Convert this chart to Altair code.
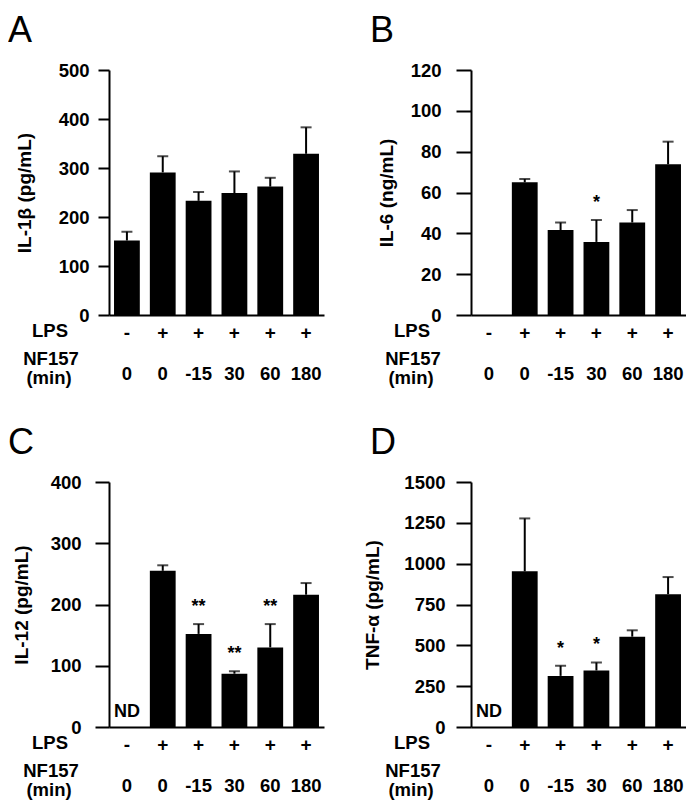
import altair as alt
import pandas as pd

# ---- data ----
conditions = ["c1", "c2", "c3", "c4", "c5", "c6"]
lps_signs = ["-", "+", "+", "+", "+", "+"]
nf157_min = ["0", "0", "-15", "30", "60", "180"]

il1b_mean = [152, 291, 233, 249, 262, 329]
il1b_err = [18, 33, 18, 44, 18, 54]
il1b_star = ["", "", "", "", "", ""]
il1b_nd = ["", "", "", "", "", ""]

il6_mean = [0, 65.0, 41.6, 35.8, 45.3, 73.8]
il6_err = [0, 1.6, 3.7, 10.7, 6.1, 11.1]
il6_star = ["", "", "", "*", "", ""]
il6_nd = ["", "", "", "", "", ""]

il12_mean = [0, 255, 152, 87, 130, 216]
il12_err = [0, 9, 16, 4, 38, 19]
il12_star = ["", "", "**", "**", "**", ""]
il12_nd = ["ND", "", "", "", "", ""]

tnf_mean = [0, 953, 313, 346, 553, 813]
tnf_err = [0, 324, 62, 49, 39, 105]
tnf_star = ["", "", "*", "*", "", ""]
tnf_nd = ["ND", "", "", "", "", ""]

FONT = "Liberation Sans"
W, H = 215, 245


def panel(letter, ytitle, means, errs, stars, nd, ymax, ystep, tick_size, label_pad, title_x):
    df = pd.DataFrame({
        "cond": conditions,
        "mean": means,
        "err": errs,
        "top": [m + e for m, e in zip(means, errs)],
        "star": stars,
        "nd": nd,
        "lps": lps_signs,
        "nf": nf157_min,
    })
    x = alt.X("cond:N", sort=conditions,
              scale=alt.Scale(paddingInner=0.28, paddingOuter=0.14),
              axis=alt.Axis(title=None, labels=False, ticks=False,
                            domainColor="black", domainWidth=2))
    yscale = alt.Scale(domain=[0, ymax], nice=False)
    yaxis = alt.Axis(values=list(range(0, ymax + 1, ystep)), format="d", grid=False,
                     labelFont=FONT, labelFontSize=18.5, labelFontWeight="bold",
                     labelColor="black", labelPadding=label_pad,
                     tickSize=tick_size, tickWidth=2, tickColor="black",
                     domainColor="black", domainWidth=2,
                     title=ytitle, titleFont=FONT, titleFontSize=19,
                     titleFontWeight="bold", titleColor="black",
                     titleAngle=270, titleX=title_x, titleY=H / 2,
                     titleAlign="center", titleBaseline="middle")
    base = alt.Chart(df)
    bars = base.mark_bar(color="black").encode(
        x=x, y=alt.Y("mean:Q", scale=yscale, axis=yaxis))
    rules = base.transform_filter("datum.err > 0").mark_rule(
        color="black", strokeWidth=2).encode(x=x, y="mean:Q", y2="top:Q")
    caps = base.transform_filter("datum.err > 0").mark_tick(
        color="black", thickness=2, size=11).encode(x=x, y="top:Q")
    star_t = base.transform_filter("datum.star != ''").mark_text(
        font=FONT, fontSize=18, fontWeight="bold", baseline="alphabetic",
        dy=-12, color="black").encode(x=x, y="top:Q", text="star:N")
    nd_t = base.transform_filter("datum.nd != ''").mark_text(
        font=FONT, fontSize=18, fontWeight="bold", baseline="alphabetic",
        dy=-10, color="black").encode(x=x, y=alt.value(H), text="nd:N")
    signs = base.mark_text(font=FONT, fontSize=19, fontWeight="bold",
                           baseline="middle", color="black").encode(
        x=x, y=alt.value(H + 18), text="lps:N")
    nums = base.mark_text(font=FONT, fontSize=18.5, fontWeight="bold",
                          baseline="middle", color="black").encode(
        x=x, y=alt.value(H + 58.5), text="nf:N")

    one = alt.Chart(pd.DataFrame({"k": [0]}))
    lps_l = one.mark_text(text="LPS", font=FONT, fontSize=18.5, fontWeight="bold",
                          align="center", baseline="middle", color="black").encode(
        x=alt.value(-59), y=alt.value(H + 16))
    nf_l = one.mark_text(text="NF157", font=FONT, fontSize=18.5, fontWeight="bold",
                         align="center", baseline="middle", color="black").encode(
        x=alt.value(-58), y=alt.value(H + 44))
    min_l = one.mark_text(text="(min)", font=FONT, fontSize=18.5, fontWeight="bold",
                          align="center", baseline="middle", color="black").encode(
        x=alt.value(-60), y=alt.value(H + 63))
    letter_l = one.mark_text(text=letter, font=FONT, fontSize=36,
                             align="left", baseline="alphabetic", color="black").encode(
        x=alt.value(-101), y=alt.value(-28))

    return alt.layer(bars, rules, caps, star_t, nd_t, signs, nums,
                     lps_l, nf_l, min_l, letter_l).properties(width=W, height=H)


pA = panel("A", "IL-1β (pg/mL)", il1b_mean, il1b_err, il1b_star, il1b_nd, 500, 100, 11, 9, -85)
pB = panel("B", "IL-6 (ng/mL)", il6_mean, il6_err, il6_star, il6_nd, 120, 20, 15, 15, -85)
pC = panel("C", "IL-12 (pg/mL)", il12_mean, il12_err, il12_star, il12_nd, 400, 100, 14, 14, -88)
pD = panel("D", "TNF-α (pg/mL)", tnf_mean, tnf_err, tnf_star, tnf_nd, 1500, 250, 15, 11, -99)

chart = alt.concat(pA, pB, pC, pD, columns=2,
                   spacing={"row": 167, "column": 147},
                   bounds="flush").properties(
    padding={"left": 0, "top": 5, "right": 0, "bottom": 0}
).configure_view(stroke=None)

chart.save("out.html", embed_options={"renderer": "svg", "actions": False})
